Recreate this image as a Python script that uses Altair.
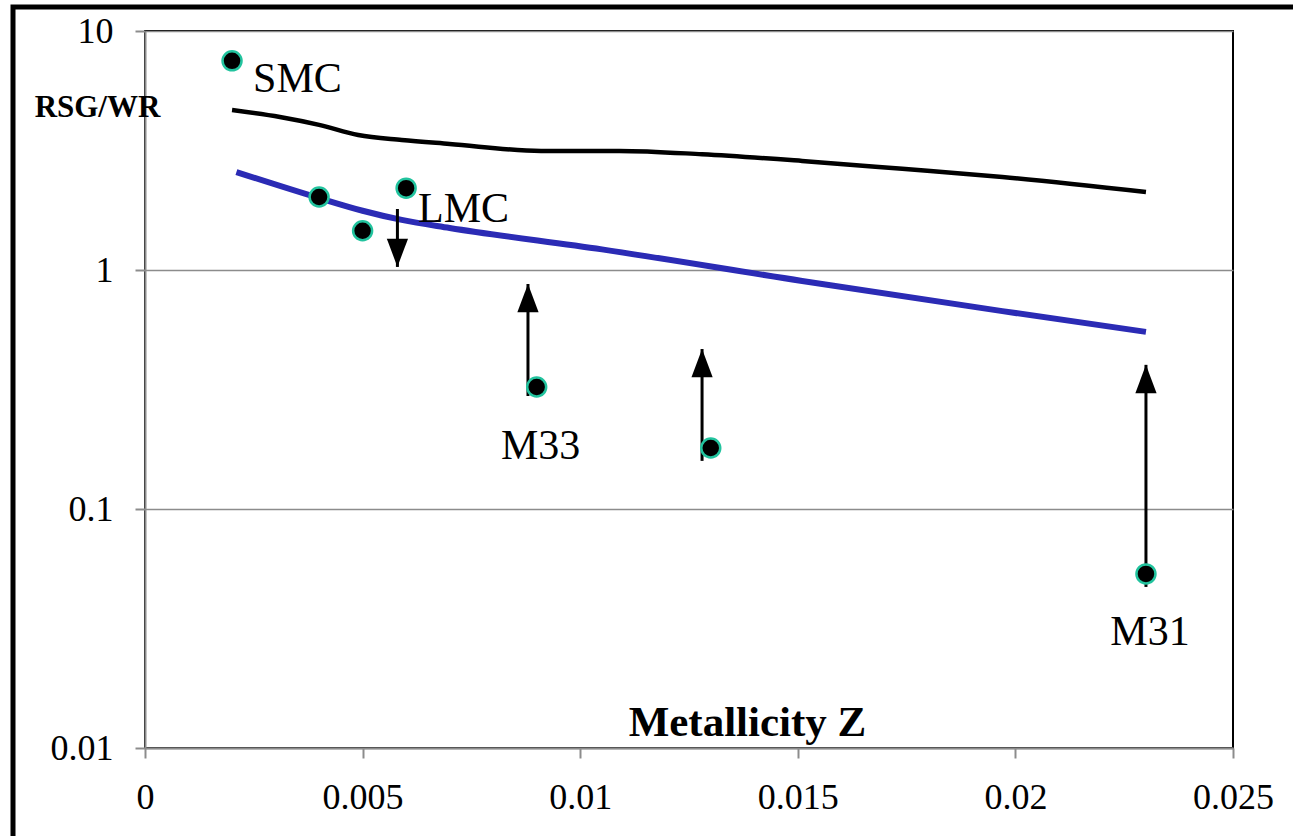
import altair as alt
import pandas as pd

# Observed RSG/WR ratios
obs_names = ["SMC", "", "", "LMC", "M33", "", "M31"]
obs_z = [0.002, 0.004, 0.005, 0.006, 0.009, 0.013, 0.023]
obs_ratio = [7.5, 2.02, 1.46, 2.2, 0.324, 0.18, 0.0535]

# Limit arrows
arrow_z = [0.0058, 0.0088, 0.0128, 0.0230]
arrow_from = [1.80, 0.297, 0.159, 0.0472]
arrow_to = [1.03, 0.874, 0.467, 0.401]
arrow_dir = ["down", "up", "up", "up"]

# Model curves
black_z = [0.0020, 0.0031, 0.0040, 0.0049, 0.0059, 0.0070, 0.0091, 0.0109, 0.0128, 0.0151, 0.0174, 0.0197, 0.0230]
black_ratio = [4.67, 4.37, 4.05, 3.67, 3.50, 3.37, 3.15, 3.15, 3.05, 2.86, 2.65, 2.45, 2.12]
blue_z = [0.0021, 0.0040, 0.0050, 0.0059, 0.0070, 0.0105, 0.0151, 0.0197, 0.0230]
blue_ratio = [2.57, 2.00, 1.77, 1.62, 1.50, 1.22, 0.90, 0.673, 0.551]

x_ticks = [0, 0.005, 0.01, 0.015, 0.02, 0.025]
y_ticks = [0.01, 0.1, 1, 10]

FONT = "Liberation Serif"
GRAY = "#8c8c8c"

obs = pd.DataFrame({"z": obs_z, "r": obs_ratio, "name": obs_names})
arrows = pd.DataFrame({"z": arrow_z, "r0": arrow_from, "r1": arrow_to, "dir": arrow_dir})
black = pd.DataFrame({"z": black_z, "r": black_ratio})
blue = pd.DataFrame({"z": blue_z, "r": blue_ratio})

xs = alt.Scale(domain=[0, 0.025], nice=False, zero=False)
ys = alt.Scale(type="log", domain=[0.01, 10], nice=False)

x_axis = alt.Axis(
    values=x_ticks, format="~g", grid=False, title="Metallicity Z",
    labelFont=FONT, labelFontSize=36, labelColor="black", labelPadding=22,
    labelOverlap=False, labelFlush=False, labelBound=False,
    tickColor=GRAY, tickSize=10, tickWidth=2, domainColor=GRAY, domainWidth=2,
    titleFont=FONT, titleFontSize=43, titleFontWeight="bold", titleColor="black",
    titleX=602, titleY=-26, titleAnchor="middle", titleAlign="center", titleBaseline="middle",
)
y_axis = alt.Axis(
    values=y_ticks, format="~g", grid=True, gridColor=GRAY, gridWidth=1.5,
    labelFont=FONT, labelFontSize=36, labelColor="black", labelPadding=22,
    labelOverlap=False, labelFlush=False, labelBound=False,
    tickColor=GRAY, tickSize=10, tickWidth=2, domainColor=GRAY, domainWidth=2,
    title="RSG/WR", titleFont=FONT, titleFontSize=31, titleFontWeight="bold", titleColor="black",
    titleAngle=0, titleX=-48, titleY=76, titleAlign="center", titleBaseline="middle",
)

X = alt.X("z:Q", scale=xs, axis=x_axis)
Y = alt.Y("r:Q", scale=ys, axis=y_axis)

black_line = alt.Chart(black).mark_line(color="black", strokeWidth=4.5, interpolate="monotone").encode(x=X, y=Y)
blue_line = alt.Chart(blue).mark_line(color="#2b2bb5", strokeWidth=6, interpolate="monotone").encode(x="z:Q", y="r:Q")

shafts = alt.Chart(arrows).mark_rule(color="black", strokeWidth=3).encode(
    x="z:Q", y="r0:Q", y2="r1:Q")
head_up = alt.Chart(arrows).transform_filter("datum.dir == 'up'").mark_point(
    shape="M0,0 L-0.75,2 L0.75,2 Z", filled=True, color="black", opacity=1, size=800
).encode(x="z:Q", y="r1:Q")
head_down = alt.Chart(arrows).transform_filter("datum.dir == 'down'").mark_point(
    shape="M0,0 L-0.75,-2 L0.75,-2 Z", filled=True, color="black", opacity=1, size=800
).encode(x="z:Q", y="r1:Q")

points = alt.Chart(obs).mark_point(
    filled=True, fill="black", stroke="#22c39e", strokeWidth=2.5, opacity=1, size=360
).encode(x="z:Q", y="r:Q")


def label(name, dx, dy, align):
    return alt.Chart(obs).transform_filter(f"datum.name == '{name}'").mark_text(
        font=FONT, fontSize=42, color="black", align=align, baseline="middle", dx=dx, dy=dy
    ).encode(x="z:Q", y="r:Q", text="name:N")


labels = [
    label("SMC", 21, 18, "left"),
    label("LMC", 12, 21, "left"),
    label("M33", 4, 59, "center"),
    label("M31", 4, 58, "center"),
]

frame = alt.Chart(pd.DataFrame({"a": [0]})).mark_rect(
    fill=None, stroke="black", strokeWidth=5
).encode(x=alt.value(-132), x2=alt.value(1300), y=alt.value(-24), y2=alt.value(900))

chart = alt.layer(
    black_line, blue_line, shafts, head_up, head_down, points, *labels, frame
).properties(
    width=1088, height=717,
    autosize=alt.AutoSizeParams(type="none"),
    padding={"left": 145, "top": 31, "right": 60, "bottom": 88},
    background="white",
).configure_view(stroke="black", strokeWidth=2)

chart.save("out.html", embed_options={"renderer": "svg", "actions": False})
